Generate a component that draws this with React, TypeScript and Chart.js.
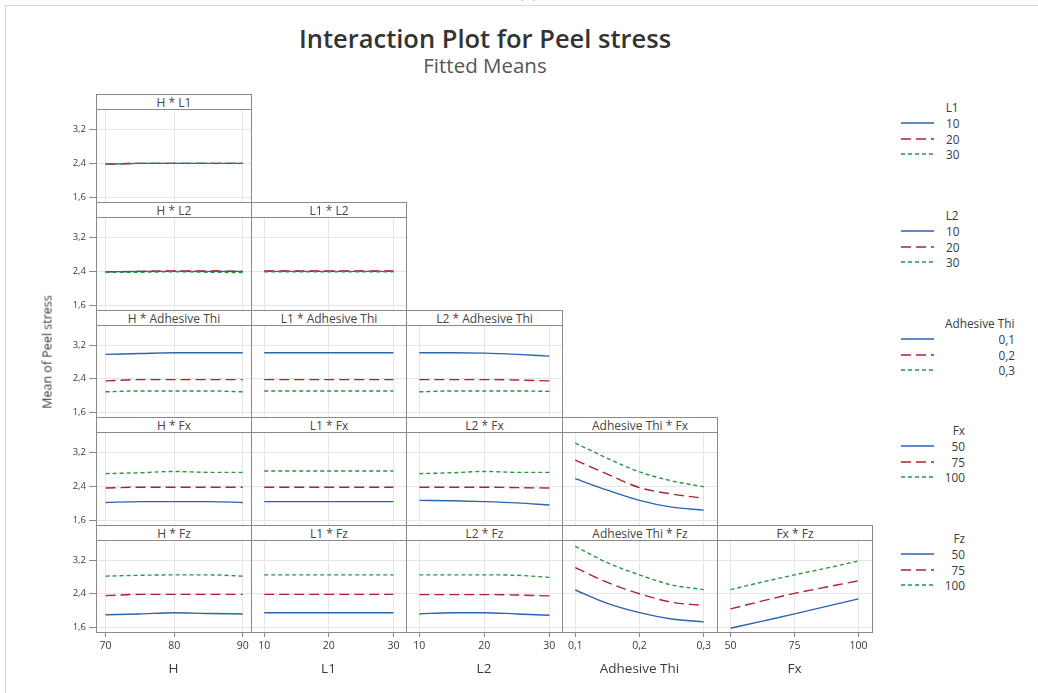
import React, { useEffect, useRef } from "react";
import { Chart, registerables } from "chart.js";

Chart.register(...registerables);

const FONT = "'Open Sans', 'Noto Sans', sans-serif";
const TEXT = "#3a3a3a";

// ---------- data ----------
const factors = ["H", "L1", "L2", "Adhesive Thi", "Fx", "Fz"];

const xH = [70, 75, 80, 85, 90];
const xL1 = [10, 15, 20, 25, 30];
const xL2 = [10, 15, 20, 25, 30];
const xAdh = [0.1, 0.15, 0.2, 0.25, 0.3];
const xFx = [50, 62.5, 75, 87.5, 100];

const ticksH = [70, 80, 90];
const ticksL1 = [10, 20, 30];
const ticksL2 = [10, 20, 30];
const ticksAdh = [0.1, 0.2, 0.3];
const ticksFx = [50, 75, 100];
const yTicks = [1.6, 2.4, 3.2];

const levelsL1 = ["10", "20", "30"];
const levelsL2 = ["10", "20", "30"];
const levelsAdh = ["0,1", "0,2", "0,3"];
const levelsFx = ["50", "75", "100"];
const levelsFz = ["50", "75", "100"];

// Row 0: * L1
const hL1_10 = [2.38, 2.4, 2.4, 2.4, 2.4];
const hL1_20 = [2.38, 2.4, 2.4, 2.4, 2.4];
const hL1_30 = [2.38, 2.4, 2.4, 2.4, 2.4];

// Row 1: * L2
const hL2_10 = [2.39, 2.4, 2.4, 2.4, 2.4];
const hL2_20 = [2.39, 2.4, 2.41, 2.41, 2.4];
const hL2_30 = [2.38, 2.38, 2.39, 2.38, 2.37];
const l1L2_10 = [2.4, 2.4, 2.4, 2.4, 2.4];
const l1L2_20 = [2.41, 2.41, 2.41, 2.41, 2.41];
const l1L2_30 = [2.39, 2.39, 2.39, 2.39, 2.39];

// Row 2: * Adhesive Thi
const hAdh_01 = [2.98, 3.0, 3.02, 3.02, 3.02];
const hAdh_02 = [2.35, 2.38, 2.38, 2.38, 2.38];
const hAdh_03 = [2.09, 2.11, 2.11, 2.11, 2.09];
const l1Adh_01 = [3.02, 3.02, 3.02, 3.02, 3.02];
const l1Adh_02 = [2.38, 2.38, 2.38, 2.38, 2.38];
const l1Adh_03 = [2.11, 2.11, 2.11, 2.11, 2.11];
const l2Adh_01 = [3.02, 3.02, 3.01, 2.98, 2.94];
const l2Adh_02 = [2.38, 2.38, 2.38, 2.37, 2.35];
const l2Adh_03 = [2.09, 2.11, 2.11, 2.11, 2.1];

// Row 3: * Fx
const hFx_50 = [2.02, 2.04, 2.04, 2.04, 2.02];
const hFx_75 = [2.36, 2.38, 2.38, 2.38, 2.38];
const hFx_100 = [2.7, 2.72, 2.75, 2.73, 2.73];
const l1Fx_50 = [2.04, 2.04, 2.04, 2.04, 2.04];
const l1Fx_75 = [2.38, 2.38, 2.38, 2.38, 2.38];
const l1Fx_100 = [2.76, 2.76, 2.76, 2.76, 2.76];
const l2Fx_50 = [2.07, 2.06, 2.04, 2.01, 1.96];
const l2Fx_75 = [2.38, 2.38, 2.38, 2.37, 2.36];
const l2Fx_100 = [2.7, 2.72, 2.75, 2.73, 2.73];
const adhFx_50 = [2.58, 2.31, 2.07, 1.91, 1.84];
const adhFx_75 = [3.02, 2.69, 2.37, 2.22, 2.12];
const adhFx_100 = [3.42, 3.06, 2.74, 2.53, 2.39];

// Row 4: * Fz
const hFz_50 = [1.9, 1.92, 1.95, 1.93, 1.92];
const hFz_75 = [2.355, 2.385, 2.385, 2.385, 2.385];
const hFz_100 = [2.82, 2.84, 2.85, 2.85, 2.82];
const l1Fz_50 = [1.95, 1.95, 1.95, 1.95, 1.95];
const l1Fz_75 = [2.385, 2.385, 2.385, 2.385, 2.385];
const l1Fz_100 = [2.85, 2.85, 2.85, 2.85, 2.85];
const l2Fz_50 = [1.92, 1.95, 1.95, 1.92, 1.89];
const l2Fz_75 = [2.38, 2.38, 2.38, 2.37, 2.35];
const l2Fz_100 = [2.85, 2.85, 2.85, 2.84, 2.79];
const adhFz_50 = [2.49, 2.17, 1.95, 1.8, 1.73];
const adhFz_75 = [3.02, 2.67, 2.4, 2.2, 2.12];
const adhFz_100 = [3.53, 3.14, 2.85, 2.61, 2.5];
const fxFz_50 = [1.58, 1.75, 1.92, 2.1, 2.28];
const fxFz_75 = [2.04, 2.23, 2.41, 2.56, 2.71];
const fxFz_100 = [2.5, 2.68, 2.85, 3.01, 3.18];

// ---------- tables built from the arrays ----------
const colXs = [xH, xL1, xL2, xAdh, xFx];
const colTicks = [ticksH, ticksL1, ticksL2, ticksAdh, ticksFx];
const colRange = [
  [68.6, 91.2],
  [7.95, 31.95],
  [7.95, 31.95],
  [0.0794, 0.3206],
  [44.7, 105.3],
];
const Y_MIN = 1.49;
const Y_MAX = 3.68;

const panelSeries: number[][][][] = [
  [[hL1_10, hL1_20, hL1_30]],
  [
    [hL2_10, hL2_20, hL2_30],
    [l1L2_10, l1L2_20, l1L2_30],
  ],
  [
    [hAdh_01, hAdh_02, hAdh_03],
    [l1Adh_01, l1Adh_02, l1Adh_03],
    [l2Adh_01, l2Adh_02, l2Adh_03],
  ],
  [
    [hFx_50, hFx_75, hFx_100],
    [l1Fx_50, l1Fx_75, l1Fx_100],
    [l2Fx_50, l2Fx_75, l2Fx_100],
    [adhFx_50, adhFx_75, adhFx_100],
  ],
  [
    [hFz_50, hFz_75, hFz_100],
    [l1Fz_50, l1Fz_75, l1Fz_100],
    [l2Fz_50, l2Fz_75, l2Fz_100],
    [adhFz_50, adhFz_75, adhFz_100],
    [fxFz_50, fxFz_75, fxFz_100],
  ],
];
const legendLevels = [levelsL1, levelsL2, levelsAdh, levelsFx, levelsFz];

// ---------- styles / layout ----------
const COLORS = ["#2b63b3", "#a8262c", "#1f9a3e"];
const DASHES: number[][] = [[], [10, 5], [4, 3]];
const COLX = [96, 251, 406, 562, 717, 872];
const ROWY = [94, 202, 310, 417, 525, 632];
const HEADER_H = 15;
const YAX_W = 60;
const XAX_H = 24;
const BORDER = "#8a8a8a";
const GRID = "#e6e6e6";

const fmt = (v: number) => String(Math.round(v * 100) / 100).replace(".", ",");

function Panel({ r, c }: { r: number; c: number }) {
  const ref = useRef<HTMLCanvasElement | null>(null);
  const isLeft = c === 0;
  const isBottom = r === 4;
  const left = COLX[c] - (isLeft ? YAX_W : 0);
  const top = ROWY[r] + HEADER_H;
  const w = COLX[c + 1] - COLX[c] + (isLeft ? YAX_W : 0);
  const plotH = ROWY[r + 1] - top;
  const extraBottom = isBottom ? XAX_H : isLeft ? 8 : 0;
  const h = plotH + extraBottom;

  useEffect(() => {
    const series = panelSeries[r][c];
    const xs = colXs[c];
    const chart = new Chart(ref.current as HTMLCanvasElement, {
      type: "line",
      data: {
        datasets: series.map((s, i) => ({
          data: xs.map((x, j) => ({ x, y: s[j] })),
          borderColor: COLORS[i],
          borderDash: DASHES[i],
          borderWidth: 1.4,
          pointRadius: 0,
          fill: false,
          tension: 0.4,
          cubicInterpolationMode: "monotone" as const,
          order: 2 - i,
        })),
      },
      options: {
        animation: false,
        responsive: false,
        devicePixelRatio: 1,
        events: [],
        layout: { padding: { left: 0, right: 0, top: 0, bottom: isBottom ? 0 : extraBottom } },
        plugins: { legend: { display: false }, tooltip: { enabled: false }, title: { display: false } },
        scales: {
          x: {
            type: "linear",
            position: "bottom",
            min: colRange[c][0],
            max: colRange[c][1],
            border: { display: false },
            grid: {
              color: GRID,
              lineWidth: 1,
              drawTicks: isBottom,
              tickLength: 5,
              tickColor: BORDER,
            },
            ticks: {
              display: isBottom,
              autoSkip: false,
              maxRotation: 0,
              padding: 3,
              color: TEXT,
              font: { family: FONT, size: 10.5 },
              callback: (v: any) => fmt(Number(v)),
            },
            afterBuildTicks: (s: any) => {
              s.ticks = colTicks[c].map((v) => ({ value: v }));
            },
            afterFit: (s: any) => {
              s.height = isBottom ? XAX_H : 0;
              s.paddingLeft = 0;
              s.paddingRight = 0;
              s.paddingTop = 0;
              s.paddingBottom = 0;
            },
          },
          y: {
            type: "linear",
            position: "left",
            min: Y_MIN,
            max: Y_MAX,
            border: { display: false },
            grid: {
              color: GRID,
              lineWidth: 1,
              drawTicks: isLeft,
              tickLength: 7,
              tickColor: BORDER,
            },
            ticks: {
              display: isLeft,
              autoSkip: false,
              padding: 3,
              color: TEXT,
              font: { family: FONT, size: 9.5 },
              callback: (v: any) => fmt(Number(v)),
            },
            afterBuildTicks: (s: any) => {
              s.ticks = yTicks.map((v) => ({ value: v }));
            },
            afterFit: (s: any) => {
              s.width = isLeft ? YAX_W : 0;
              s.paddingLeft = 0;
              s.paddingRight = 0;
              s.paddingTop = 0;
              s.paddingBottom = 0;
            },
          },
        },
      },
    } as any);
    return () => chart.destroy();
  }, [r, c]);

  return (
    <canvas
      ref={ref}
      width={w}
      height={h}
      style={{ position: "absolute", left, top, width: w, height: h }}
    />
  );
}

function Frame({ r, c }: { r: number; c: number }) {
  const left = COLX[c];
  const width = COLX[c + 1] - COLX[c] + 1;
  return (
    <>
      <div
        style={{
          position: "absolute",
          left,
          top: ROWY[r],
          width,
          height: ROWY[r + 1] - ROWY[r] + 1,
          border: `1px solid ${BORDER}`,
          boxSizing: "border-box",
          pointerEvents: "none",
        }}
      />
      <div
        style={{
          position: "absolute",
          left,
          top: ROWY[r],
          width,
          height: HEADER_H + 1,
          border: `1px solid ${BORDER}`,
          boxSizing: "border-box",
          background: "#fff",
          overflow: "hidden",
          textAlign: "center",
          fontFamily: FONT,
          fontSize: 12,
          lineHeight: "14px",
          paddingTop: 1,
          color: "#444",
          whiteSpace: "nowrap",
        }}
      >
        {factors[c]} * {factors[r + 1]}
      </div>
    </>
  );
}

type Anchor = "left" | "right" | "center";
function Txt({
  x,
  y,
  anchor,
  size,
  weight,
  color,
  children,
}: {
  x: number;
  y: number;
  anchor: Anchor;
  size: number;
  weight?: number;
  color?: string;
  children: React.ReactNode;
}) {
  const tx = anchor === "right" ? "translateX(-100%)" : anchor === "center" ? "translateX(-50%)" : "none";
  return (
    <div
      style={{
        position: "absolute",
        left: x,
        top: y - 15,
        height: 30,
        lineHeight: "30px",
        transform: tx,
        whiteSpace: "nowrap",
        fontFamily: FONT,
        fontSize: size,
        fontWeight: weight || 400,
        color: color || TEXT,
      }}
    >
      {children}
    </div>
  );
}

const LEG_TITLE_X = [945.7, 945.7, 945, 965, 965];
const LEG_TITLE_ANCHOR: Anchor[] = ["left", "left", "left", "right", "right"];
const LEG_LABEL_RIGHT = [959.5, 959.5, 1015, 965, 965];

function Legend({ r }: { r: number }) {
  const base = ROWY[r];
  const itemY = [28.5, 44.5, 60];
  return (
    <>
      <Txt x={LEG_TITLE_X[r]} y={base + 12.5} anchor={LEG_TITLE_ANCHOR[r]} size={11.8}>
        {factors[r + 1]}
      </Txt>
      {legendLevels[r].map((lab, i) => (
        <React.Fragment key={i}>
          <svg
            width={36}
            height={6}
            style={{ position: "absolute", left: 900, top: base + itemY[i] - 3 }}
          >
            <line
              x1={1}
              y1={3}
              x2={34}
              y2={3}
              stroke={COLORS[i]}
              strokeWidth={1.5}
              strokeDasharray={DASHES[i].length ? DASHES[i].join(" ") : undefined}
            />
          </svg>
          <Txt x={LEG_LABEL_RIGHT[r]} y={base + itemY[i]} anchor="right" size={11.8}>
            {lab}
          </Txt>
        </React.Fragment>
      ))}
    </>
  );
}

export default function App() {
  const cells: { r: number; c: number }[] = [];
  for (let r = 0; r < 5; r++) for (let c = 0; c <= r; c++) cells.push({ r, c });
  return (
    <div
      style={{
        position: "absolute",
        left: 0,
        top: 0,
        width: 1038,
        height: 693,
        background: "#fff",
        overflow: "hidden",
        fontFamily: FONT,
      }}
    >
      <div
        style={{
          position: "absolute",
          left: 5,
          top: 5,
          width: 1200,
          height: 900,
          borderLeft: "1px solid #d6d6d6",
          borderTop: "1px solid #d6d6d6",
        }}
      />
      <Txt x={528} y={-8} anchor="center" size={16} color="#555">
        (a)
      </Txt>
      <Txt x={485} y={38} anchor="center" size={25.5} weight={600} color="#333">
        Interaction Plot for Peel stress
      </Txt>
      <Txt x={485} y={65} anchor="center" size={20.5} color="#555">
        Fitted Means
      </Txt>
      {cells.map(({ r, c }) => (
        <Panel key={`p${r}-${c}`} r={r} c={c} />
      ))}
      {cells.map(({ r, c }) => (
        <Frame key={`f${r}-${c}`} r={r} c={c} />
      ))}
      {[0, 1, 2, 3, 4].map((c) => (
        <Txt key={`ax${c}`} x={(COLX[c] + COLX[c + 1]) / 2} y={668} anchor="center" size={13.5}>
          {factors[c]}
        </Txt>
      ))}
      <div
        style={{
          position: "absolute",
          left: 46.5,
          top: 352,
          transform: "translate(-50%, -50%) rotate(-90deg)",
          whiteSpace: "nowrap",
          fontFamily: FONT,
          fontSize: 12.5,
          color: TEXT,
        }}
      >
        Mean of Peel stress
      </div>
      {[0, 1, 2, 3, 4].map((r) => (
        <Legend key={`lg${r}`} r={r} />
      ))}
    </div>
  );
}
